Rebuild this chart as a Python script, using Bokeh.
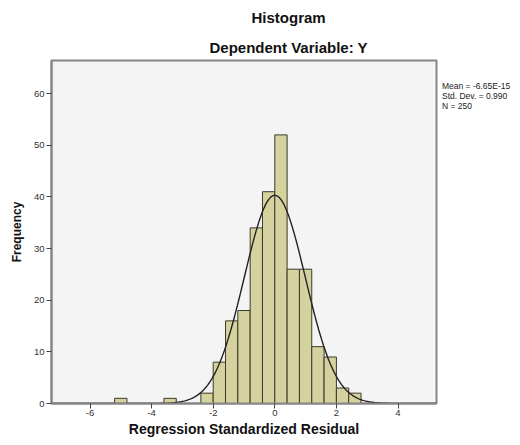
import numpy as np
from bokeh.plotting import figure
from bokeh.models import Range1d, FixedTicker, Title, Legend, LegendItem
from bokeh.embed import file_html
from bokeh.resources import INLINE

# ---- data ----
bin_width = 0.4
bin_lefts = [-5.2, -3.6, -2.4, -2.0, -1.6, -1.2, -0.8, -0.4, 0.0, 0.4, 0.8, 1.2, 1.6, 2.0, 2.4]
counts    = [1,    1,    2,    8,    16,   18,   34,   41,   52,  26,  26,  11,  9,   3,   2]
mean_val = -6.65e-15
std_val = 0.990
n_val = 250
x_ticks = [-6, -4, -2, 0, 2, 4]
y_ticks = [0, 10, 20, 30, 40, 50, 60]
title1 = "Histogram"
title2 = "Dependent Variable: Y"
stats_lines = ["Mean = -6.65E-15", "Std. Dev. = 0.990", "N = 250"]

FONT = "Liberation Sans"

p = figure(frame_width=385, frame_height=343, output_backend="svg", toolbar_location=None,
           x_range=Range1d(-7.25, 5.25), y_range=Range1d(0, 66.4),
           min_border_left=0, min_border_right=0, min_border_top=0, min_border_bottom=0)
p.background_fill_color = "#f4f4f4"
p.border_fill_color = "white"
p.outline_line_color = "#858585"
p.outline_line_width = 2
p.xgrid.visible = False
p.ygrid.visible = False

rights = [l + bin_width for l in bin_lefts]
p.quad(left=bin_lefts, right=rights, bottom=0, top=counts,
       fill_color="#d6d2a0", line_color="#3a3a28", line_width=1)

xs = np.linspace(-7.25, 5.25, 400)
ys = n_val * bin_width * np.exp(-0.5 * ((xs - mean_val) / std_val) ** 2) / (std_val * np.sqrt(2 * np.pi))
p.line(xs, ys, line_color="#222222", line_width=1.4)

for ax in (p.xaxis[0], p.yaxis[0]):
    ax.axis_line_color = "#858585"
    ax.axis_line_width = 2
    ax.major_tick_line_color = "#444444"
    ax.major_tick_out = 5
    ax.major_tick_in = 0
    ax.minor_tick_line_color = None
    ax.major_label_text_font = FONT
    ax.major_label_text_font_size = "9.5px"
    ax.major_label_text_color = "#333333"
    ax.axis_label_text_font = FONT
    ax.axis_label_text_font_style = "bold"
    ax.axis_label_text_color = "#111111"

p.xaxis.ticker = FixedTicker(ticks=x_ticks)
p.xaxis.major_label_overrides = {t: str(t) for t in x_ticks}
p.yaxis.ticker = FixedTicker(ticks=y_ticks)
p.xaxis.axis_label = "Regression Standardized Residual"
p.xaxis.axis_label_text_font_size = "14px"
p.xaxis.major_label_standoff = 1
p.xaxis.axis_label_standoff = 2
p.yaxis.axis_label = "Frequency"
p.yaxis.axis_label_text_font_size = "12px"
p.yaxis.major_label_standoff = 2
p.yaxis.axis_label_standoff = 7

# small blank spacer at the far left of the canvas
p.add_layout(Title(text=" ", text_font_size="3.5px", standoff=0), "left")

# titles: first added is nearest the frame
t2 = Title(text=title2, align="left", offset=158, standoff=9, text_font=FONT,
           text_font_style="bold", text_font_size="15px", text_color="#111111")
t1 = Title(text=title1, align="left", offset=200, standoff=13, text_font=FONT,
           text_font_style="bold", text_font_size="15px", text_color="#111111")
p.add_layout(t2, "above")
p.add_layout(t1, "above")

# stats box at the right of the frame
dummies = [p.line(x=[], y=[], line_alpha=0) for _ in stats_lines]
legend = Legend(items=[LegendItem(label=s, renderers=[r]) for s, r in zip(stats_lines, dummies)],
                location=(0, 292), margin=0, padding=0, spacing=0,
                glyph_width=0, glyph_height=7, label_height=7, label_standoff=6,
                label_text_font=FONT, label_text_font_size="8.5px", label_text_color="#222222",
                border_line_color=None, background_fill_alpha=0)
p.add_layout(legend, "right")

open("out.html", "w").write(file_html(p, INLINE))
